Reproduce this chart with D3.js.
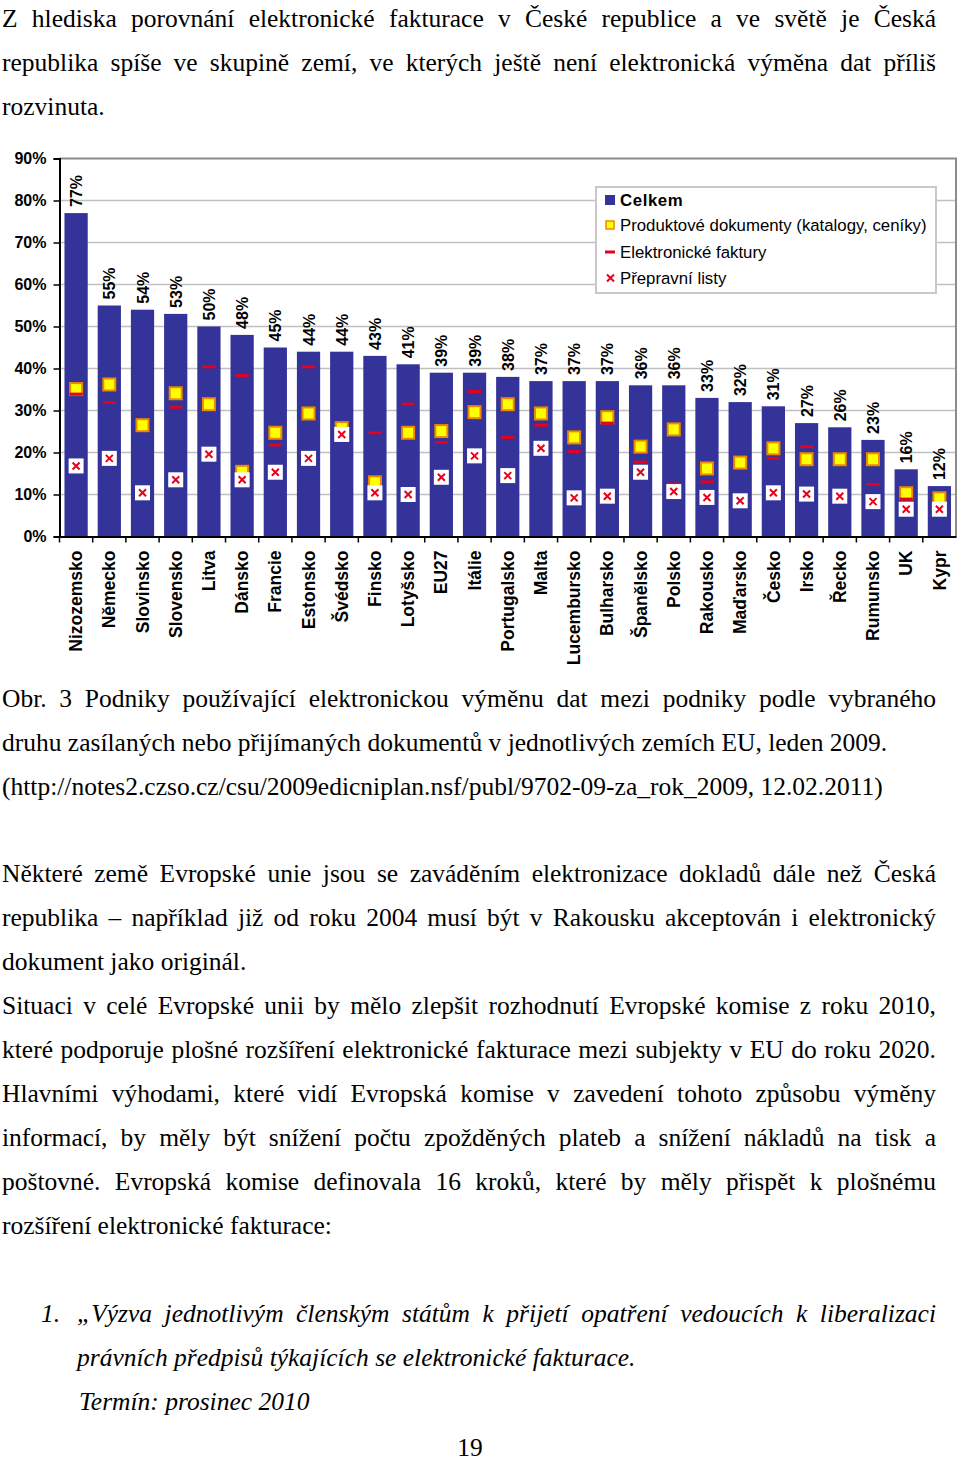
<!DOCTYPE html>
<html><head><meta charset="utf-8">
<script src="https://cdn.jsdelivr.net/npm/d3@7"></script>
<style>
body{margin:0;background:#fff;}
svg{display:block;}
</style></head>
<body>
<svg id="page" width="960" height="1462"></svg>
<script>
// ---- Data ----
const categories = ["Nizozemsko","Německo","Slovinsko","Slovensko","Litva","Dánsko","Francie","Estonsko","Švédsko","Finsko","Lotyšsko","EU27","Itálie","Portugalsko","Malta","Lucembursko","Bulharsko","Španělsko","Polsko","Rakousko","Maďarsko","Česko","Irsko","Řecko","Rumunsko","UK","Kypr"];
const celkem = [77,55,54,53,50,48,45,44,44,43,41,39,39,38,37,37,37,36,36,33,32,31,27,26,23,16,12];
const produktove = [35.1,36.2,26.5,34.1,31.5,15.4,24.7,29.3,25.8,12.9,24.7,25.1,29.6,31.5,29.3,23.6,28.4,21.4,25.5,16.2,17.6,21.0,18.4,18.4,18.4,10.3,9.1];
const faktury = [33.9,31.9,null,30.8,40.4,38.3,21.8,40.4,null,24.7,31.5,22.4,34.5,23.6,26.5,20.2,27.0,17.7,12.5,13.0,null,18.6,21.4,null,12.4,8.9,null];
const prepravni = [16.8,18.6,10.4,13.5,19.6,13.5,15.3,18.6,24.3,10.4,10.0,14.1,19.2,14.5,21.0,9.2,9.6,15.3,10.7,9.3,8.5,10.4,10.1,9.6,8.3,6.5,6.5];
const seriesNames = ["Celkem","Produktové dokumenty (katalogy, ceníky)","Elektronické faktury","Přepravní listy"];
const yTicks = [0,10,20,30,40,50,60,70,80,90];

const introLines = [
  {t:"Z hlediska porovnání elektronické fakturace v\u00A0České republice a ve světě je Česká", j:true},
  {t:"republika spíše ve skupině zemí, ve kterých ještě není elektronická výměna dat příliš", j:true},
  {t:"rozvinuta.", j:false}
];
const captionLines = [
  {t:"Obr. 3 Podniky používající elektronickou výměnu dat mezi podniky podle vybraného", j:true},
  {t:"druhu zasílaných nebo přijímaných dokumentů v jednotlivých zemích EU, leden 2009.", j:false},
  {t:"(http://notes2.czso.cz/csu/2009edicniplan.nsf/publ/9702-09-za_rok_2009, 12.02.2011)", j:false}
];
const bodyLines = [
  {t:"Některé země Evropské unie jsou se zaváděním elektronizace dokladů dále než Česká", j:true},
  {t:"republika – například již od roku 2004 musí být v Rakousku akceptován i elektronický", j:true},
  {t:"dokument jako originál.", j:false},
  {t:"Situaci v\u00A0celé Evropské unii by mělo zlepšit rozhodnutí Evropské komise z\u00A0roku 2010,", j:true},
  {t:"které podporuje plošné rozšíření elektronické fakturace mezi subjekty v EU do roku 2020.", j:true},
  {t:"Hlavními výhodami, které vidí Evropská komise v\u00A0zavedení tohoto způsobu výměny", j:true},
  {t:"informací, by měly být snížení počtu zpožděných plateb a snížení nákladů na tisk a", j:true},
  {t:"poštovné. Evropská komise definovala 16 kroků, které by měly přispět k\u00A0plošnému", j:true},
  {t:"rozšíření elektronické fakturace:", j:false}
];
const listLines = [
  {t:"„Výzva jednotlivým členským státům k přijetí opatření vedoucích k liberalizaci", j:true},
  {t:"právních předpisů týkajících se elektronické fakturace.", j:false}
];

// ---- Page text ----
const svg = d3.select("#page");
const serif = "'Liberation Serif','Times New Roman',serif";
const sans = "'Liberation Sans',Arial,sans-serif";
const FS = 25.5;

function textBlock(lines, x0, xr, y0, lh, italic){
  lines.forEach((L,i)=>{
    const t = svg.append("text")
      .attr("x", x0).attr("y", y0 + i*lh)
      .attr("font-family", serif).attr("font-size", FS)
      .attr("font-style", italic ? "italic" : "normal")
      .attr("fill","#000")
      .style("white-space","pre")
      .text(L.t);
    if (L.j){
      const w = t.node().getComputedTextLength();
      const spaces = (L.t.match(/[ \u00A0]/g)||[]).length;
      if (spaces>0) t.attr("word-spacing", ((xr - x0) - w)/spaces);
    }
  });
}
textBlock(introLines, 2, 936, 27, 44, false);
textBlock(captionLines, 2, 936, 707, 44, false);
textBlock(bodyLines, 2, 936, 882, 44, false);
textBlock(listLines, 77, 936, 1322, 44, true);
svg.append("text").attr("x",41).attr("y",1322).attr("font-family",serif).attr("font-size",FS).attr("font-style","italic").text("1.");
svg.append("text").attr("x",79).attr("y",1410).attr("font-family",serif).attr("font-size",FS).attr("font-style","italic").text("Termín: prosinec 2010");
svg.append("text").attr("x",470).attr("y",1456).attr("text-anchor","middle").attr("font-family",serif).attr("font-size",FS).text("19");

// ---- Chart ----
const pL = 59.5, pR = 956, pT = 158.5, pB = 536.5;
const x = d3.scaleBand().domain(categories).range([pL, pR]).paddingInner(0.3).paddingOuter(0.15);
const y = d3.scaleLinear().domain([0, 90]).range([pB, pT]);
const g = svg.append("g");

// gridlines
g.selectAll("line.grid").data(yTicks.filter(d=>d>0 && d<90)).join("line")
  .attr("x1", pL).attr("x2", pR).attr("y1", d=>y(d)).attr("y2", d=>y(d))
  .attr("stroke", "#c0c0c0").attr("stroke-width", 1.5);
// plot border top/right
g.append("path").attr("d", `M${pL},${y(90)}H${pR}V${pB}`)
  .attr("fill","none").attr("stroke","#8c8c8c").attr("stroke-width",2);

// bars
g.selectAll("rect.bar").data(categories).join("rect")
  .attr("x", d=>x(d)).attr("width", x.bandwidth())
  .attr("y", (d,i)=>y(celkem[i])).attr("height", (d,i)=>y(0)-y(celkem[i]))
  .attr("fill", "#333399");

// value labels
g.selectAll("text.val").data(categories).join("text")
  .attr("transform", (d,i)=>`translate(${x(d)+x.bandwidth()/2+6},${y(celkem[i])-6}) rotate(-90)`)
  .attr("font-family", sans).attr("font-weight","bold").attr("font-size", 16)
  .text((d,i)=>d3.format(".0f")(celkem[i])+"%");

// product squares
const cx = d=>x(d)+x.bandwidth()/2;
g.selectAll("rect.prod").data(categories.map((c,i)=>({c,v:produktove[i]})).filter(d=>d.v!=null)).join("rect")
  .attr("x", d=>cx(d.c)-6).attr("y", d=>y(d.v)-6).attr("width",12).attr("height",12)
  .attr("fill","#ffff00").attr("stroke","#ee8800").attr("stroke-width",2);
// invoice dashes
g.selectAll("line.fak").data(categories.map((c,i)=>({c,v:faktury[i]})).filter(d=>d.v!=null)).join("line")
  .attr("x1", d=>cx(d.c)-6.5).attr("x2", d=>cx(d.c)+6.5).attr("y1", d=>y(d.v)).attr("y2", d=>y(d.v))
  .attr("stroke","#e8001c").attr("stroke-width",3);
// transport x boxes
const xs = g.selectAll("g.prep").data(categories.map((c,i)=>({c,v:prepravni[i]})).filter(d=>d.v!=null)).join("g")
  .attr("transform", d=>`translate(${cx(d.c)},${y(d.v)})`);
xs.append("rect").attr("x",-7.5).attr("y",-7.5).attr("width",15).attr("height",15).attr("fill","#fff");
xs.append("path").attr("d","M-3.5,-3.5L3.5,3.5M-3.5,3.5L3.5,-3.5").attr("stroke","#e8001c").attr("stroke-width",2);

// y axis
const yAxis = g.append("g").attr("transform",`translate(${pL},0)`)
  .call(d3.axisLeft(y).tickValues(yTicks).tickFormat(d=>d+"%").tickSize(6).tickPadding(7));
yAxis.select(".domain").attr("stroke","#000").attr("stroke-width",2);
yAxis.selectAll(".tick line").attr("stroke","#000").attr("stroke-width",1.5);
yAxis.selectAll("text").attr("font-family",sans).attr("font-weight","bold").attr("font-size",16).attr("fill","#000");

// x axis
const xAxis = g.append("g").attr("transform",`translate(0,${pB})`)
  .call(d3.axisBottom(x).tickSize(0).tickPadding(0));
xAxis.select(".domain").attr("stroke","#000").attr("stroke-width",2);
xAxis.selectAll(".tick text")
  .attr("font-family",sans).attr("font-weight","bold").attr("font-size",17.5).attr("fill","#000")
  .attr("text-anchor","end").attr("dy","0.35em")
  .attr("transform","translate(0,14) rotate(-90)").attr("x",0).attr("y",0);
// boundary ticks
const bounds = d3.range(categories.length).map(i=>x(categories[i]) - x.step()*x.paddingOuter());
g.selectAll("line.bt").data(bounds).join("line")
  .attr("x1",d=>d).attr("x2",d=>d).attr("y1",pB).attr("y2",pB+6)
  .attr("stroke","#000").attr("stroke-width",1.5);

// legend
const lg = g.append("g").attr("transform","translate(596,187)");
lg.append("rect").attr("width",340).attr("height",106).attr("fill","#fff").attr("stroke","#c8c8c8").attr("stroke-width",2);
const rowsY = [13, 38, 65, 91];
const items = lg.selectAll("g.it").data(seriesNames).join("g").attr("transform",(d,i)=>`translate(0,${rowsY[i]})`);
items.append("text").attr("x",24).attr("y",6).attr("font-family",sans).attr("font-size",16.8)
  .attr("font-weight",(d,i)=>i===0?"bold":"normal").attr("letter-spacing",(d,i)=>i===0?0.6:0).text(d=>d);
lg.append("rect").attr("x",9).attr("y",rowsY[0]-5).attr("width",10).attr("height",10).attr("fill","#333399");
lg.append("rect").attr("x",10).attr("y",rowsY[1]-4).attr("width",8).attr("height",8).attr("fill","#ffff00").attr("stroke","#ee8800").attr("stroke-width",1.5);
lg.append("line").attr("x1",9).attr("x2",19).attr("y1",rowsY[2]).attr("y2",rowsY[2]).attr("stroke","#e8001c").attr("stroke-width",3);
lg.append("path").attr("d",`M11,${rowsY[3]-3.5}l7,7M11,${rowsY[3]+3.5}l7,-7`).attr("stroke","#e8001c").attr("stroke-width",2);
</script>
</body></html>
